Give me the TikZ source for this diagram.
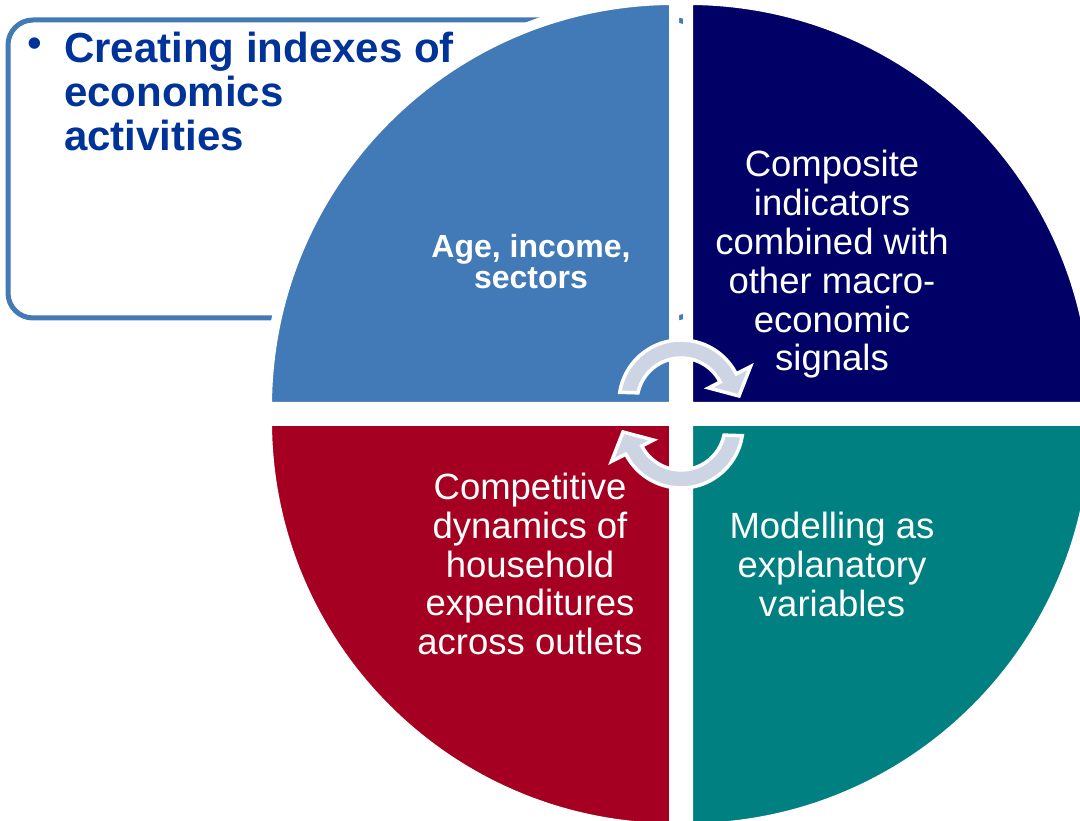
\documentclass[tikz,border=0pt]{standalone}
\usepackage{fontspec}
\setmainfont{Liberation Sans}

\definecolor{qblue}{RGB}{66,121,183}
\definecolor{qnavy}{RGB}{0,0,102}
\definecolor{qred}{RGB}{165,0,33}
\definecolor{qteal}{RGB}{0,128,128}
\definecolor{qtext}{RGB}{0,51,153}
\definecolor{qarrow}{RGB}{205,213,229}

% one bent arrow, drawn round its own centre
\newcommand{\turnarrow}{(171:62) arc (171:27:62) -- (27:78) -- (58,6) -- (27:31) -- (27:44) arc (27:168:44) -- cycle}

\tikzset{
  quarter/.style={font=\fontsize{36.5}{38.8}\selectfont, text=white, align=center},
  piece/.style={draw=white, line width=10pt},
  turn/.style={fill=qarrow, draw=white, line width=3.5pt, line join=miter}
}

\begin{document}
\begin{tikzpicture}[x=1pt,y=1pt]
\tikzstyle{every node}+=[inner sep=0pt]
\clip (0,0) rectangle (1080,821);
% frame with the bullet text
\draw [qblue, line width=5pt, rounded corners=25pt, fill=white] (8,801) rectangle (700,503);
\node (bullet) at (35,773.5) {\fontsize{42}{44}\selectfont\color{qtext}\textbullet};
\node (creating) [anchor=north west, align=left, text=qtext, font=\fontsize{42}{44}\selectfont\bfseries] at (64,789) {Creating indexes of\\economics\\activities};
% the four quarters, white rims keep the gaps clear
\filldraw [piece, fill=qblue] (674,414) -- ++(-407,0) arc (180:90:407) -- cycle;
\filldraw [piece, fill=qnavy] (688,414) -- ++(0,407) arc (90:0:407) -- cycle;
\filldraw [piece, fill=qred] (674,400) -- ++(-407,0) arc (180:270:407) -- cycle;
\filldraw [piece, fill=qteal] (688,400) -- ++(407,0) arc (0:-90:407) -- cycle;
\node (age) [quarter, font=\fontsize{32}{31}\selectfont\bfseries] at (531,559) {Age, income,\\sectors};
\node (composite) [quarter] at (832,556.5) {Composite\\indicators\\combined with\\other macro-\\economic\\signals};
\node (competitive) [quarter] at (530,257) {Competitive\\dynamics of\\household\\expenditures\\across outlets};
\node (modelling) [quarter] at (832,256.5) {Modelling as\\explanatory\\variables};
% arrows in the middle
\begin{scope}[shift={(681,407)}]
\filldraw [turn, shift={(0,12)}] \turnarrow;
\end{scope}
\begin{scope}[shift={(681,407)}, rotate=180]
\filldraw [turn, shift={(0,12)}] \turnarrow;
\end{scope}
\end{tikzpicture}
\end{document}
